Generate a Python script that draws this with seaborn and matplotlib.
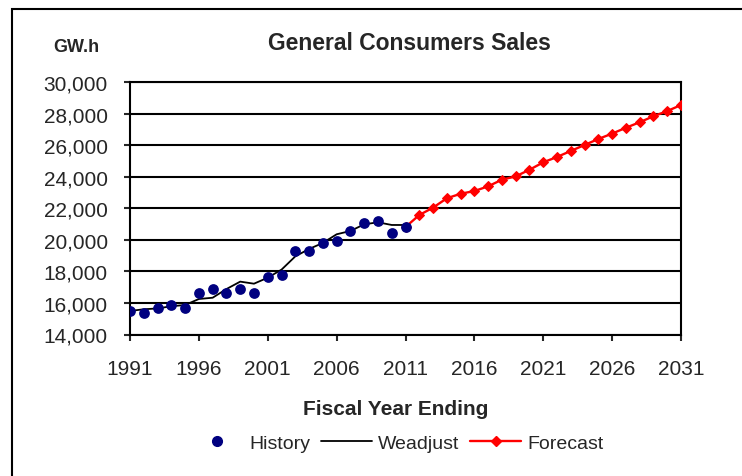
import numpy as np
import pandas as pd
import matplotlib
matplotlib.use("Agg")
import matplotlib.pyplot as plt
import seaborn as sns
from matplotlib.lines import Line2D
from matplotlib.patches import Rectangle
from matplotlib.ticker import FuncFormatter

# data (GW.h)
history_years = list(range(1991, 2012))
history_values = [15490, 15360, 15660, 15870, 15660, 16630, 16880, 16630, 16880, 16630,
                  17640, 17770, 19290, 19290, 19800, 19930, 20560, 21070, 21190, 20430, 20810]

weadjust_years = list(range(1991, 2012))
weadjust_values = [15490, 15600, 15650, 15790, 15870, 16250, 16330, 16880, 17350, 17220,
                   17600, 18110, 18950, 19420, 19800, 20350, 20560, 20980, 21110, 20940, 20940]

forecast_years = list(range(2011, 2032))
forecast_values = [20810, 21570, 22040, 22630, 22920, 23090, 23390, 23810, 24020, 24440,
                   24910, 25250, 25630, 26010, 26390, 26730, 27100, 27450, 27830, 28160, 28540]

x_ticks = list(range(1991, 2032, 5))
y_ticks = list(range(14000, 30001, 2000))

hist_df = pd.DataFrame({"year": history_years, "gwh": history_values})
wea_df = pd.DataFrame({"year": weadjust_years, "gwh": weadjust_values})
fc_df = pd.DataFrame({"year": forecast_years, "gwh": forecast_values})

sns.set_style("white")
plt.rcParams["font.family"] = ["Liberation Sans", "DejaVu Sans"]

fig = plt.figure(figsize=(7.42, 4.77), dpi=100)
ax = fig.add_axes([130 / 742, 1 - 335.5 / 477, 551 / 742, 252.5 / 477])

navy = "#000080"
red = "#FF0000"

sns.lineplot(data=wea_df, x="year", y="gwh", ax=ax, color="black", linewidth=1.3, zorder=3)
sns.lineplot(data=fc_df, x="year", y="gwh", ax=ax, color=red, linewidth=1.7,
             marker="D", markersize=5, markeredgecolor=red, zorder=4)
sns.scatterplot(data=hist_df, x="year", y="gwh", ax=ax, color=navy, s=60,
                edgecolor=navy, linewidth=0, zorder=5)

ax.set_xlim(1991, 2031)
ax.set_ylim(14000, 30000)
ax.set_xticks(x_ticks)
ax.set_yticks(y_ticks)
ax.yaxis.set_major_formatter(FuncFormatter(lambda v, p: f"{int(v):,}"))
ax.grid(axis="y", color="black", linewidth=1.5)
ax.grid(axis="x", visible=False)
ax.set_axisbelow(True)
for s in ax.spines.values():
    s.set_visible(True)
    s.set_color("black")
    s.set_linewidth(1.5)

ax.tick_params(axis="y", direction="out", length=4, width=1.5, pad=12, labelsize=15, left=True)
ax.tick_params(axis="x", direction="out", length=4, width=1.5, pad=14, labelsize=15, bottom=True)
ax.set_xlabel("")
ax.set_ylabel("")

fig.text(409 / 742, 1 - 43 / 477, "General Consumers Sales", ha="center", va="center",
         fontsize=16.5, fontweight="bold")
fig.text(76 / 742, 1 - 47 / 477, "GW.h", ha="center", va="center",
         fontsize=13, fontweight="bold")
fig.text(396 / 742, 1 - 410 / 477, "Fiscal Year Ending", ha="center", va="center",
         fontsize=15, fontweight="bold")

handles = [
    Line2D([], [], linestyle="none", marker="o", markersize=7, color=navy),
    Line2D([], [], color="black", linewidth=1.3),
    Line2D([], [], color=red, linewidth=1.7, marker="D", markersize=5),
]
fig.legend(handles, ["History", "Weadjust", "Forecast"], loc="center",
           bbox_to_anchor=(398 / 742, 1 - 444 / 477), ncol=3, frameon=False,
           fontsize=14, handlelength=2.6, handletextpad=0.35, columnspacing=0.55)

fig.add_artist(Rectangle((11.5 / 742, -0.2), 2, 1 - 10 / 477 + 0.2, transform=fig.transFigure,
                         fill=False, edgecolor="black", linewidth=1.5, clip_on=False))

fig.savefig("out.png", dpi=100)
